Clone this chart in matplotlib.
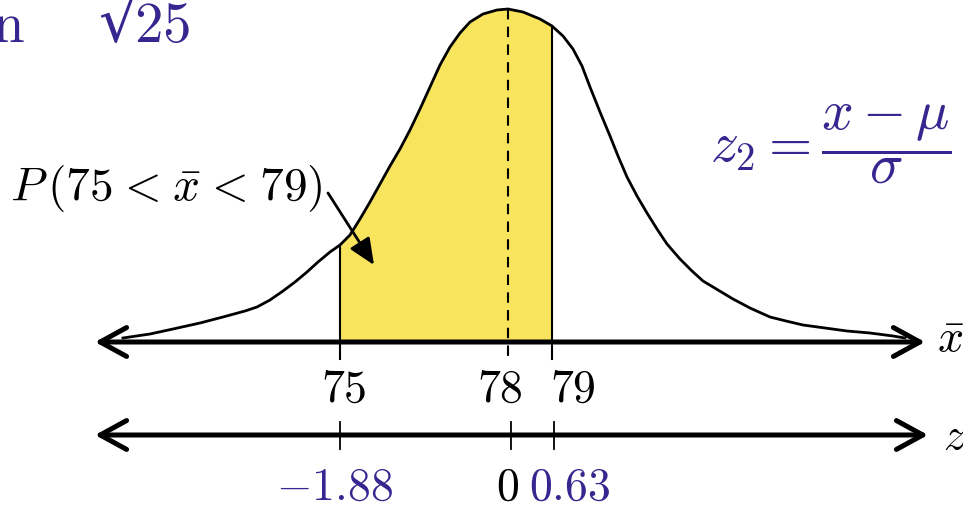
import numpy as np
import matplotlib
matplotlib.use("Agg")
import matplotlib.pyplot as plt
from matplotlib.patches import FancyArrowPatch

plt.rcParams['mathtext.fontset'] = 'cm'

# Couleurs
INDIGO = '#35278f'
JAUNE = '#f9e45e'

# Courbe en cloche (repère du canevas)
curve_x = [123, 150, 173, 200, 223, 245, 257, 270, 283, 295, 307, 318, 330, 340,
           350, 360, 370, 380, 390, 400, 410, 420, 430, 440, 450, 460, 470, 483,
           497, 508, 523, 540, 552, 563, 573, 582, 590, 600, 610, 618, 627, 637,
           647, 657, 667, 680, 692, 703, 718, 733, 750, 770, 786, 803, 825, 847,
           870, 893, 905]
curve_y = [339, 335, 330, 324, 318, 312, 308, 301, 292, 283, 273, 263, 253, 246,
           236, 220, 203, 185, 167, 150, 131, 110, 88, 66, 48, 34, 23, 15,
           11, 10, 13, 20, 27, 37, 50, 67, 88, 113, 137, 157, 178, 197,
           214, 230, 245, 260, 272, 282, 291, 300, 309, 318, 322, 326, 329, 332,
           334, 337, 339]

# Valeurs affichées
xbar_labels = ['75', '78', '79']
z_labels = ['-1.88', '0', '0.63']
z_colors = [INDIGO, 'black', INDIGO]

# Mise en page (positions sur le canevas)
xbar_ticks = [340, 508, 552]
z_ticks = [340, 511, 554]
xbar_lab_pos = [344, 500, 573]
z_lab_pos = [335, 508, 570]
y_xbar = 343
y_z = 436

fig = plt.figure(figsize=(9.63, 5.06), dpi=100)
ax = fig.add_axes([0, 0, 1, 1])
ax.set_xlim(0, 963)
ax.set_ylim(506, 0)
ax.axis('off')

cx = np.array(curve_x)
cy = np.array(curve_y)

# zone ombrée entre 75 et 79
m = (cx >= xbar_ticks[0]) & (cx <= xbar_ticks[2])
ax.fill_between(cx[m], cy[m], y_xbar, color=JAUNE, lw=0, zorder=1)

ax.plot(cx, cy, color='black', lw=2, solid_joinstyle='round', zorder=3)

# bords de la zone et moyenne
ax.plot([xbar_ticks[0]] * 2, [cy[cx == xbar_ticks[0]][0], 360], color='black', lw=1.5, zorder=2)
ax.plot([xbar_ticks[2]] * 2, [cy[cx == xbar_ticks[2]][0], 360], color='black', lw=1.5, zorder=2)
ax.plot([xbar_ticks[1]] * 2, [cy.min(), 360], color='black', lw=1.5,
        linestyle=(0, (5, 3.5)), zorder=2)

# axes à double flèche
for yy, x0, x1 in [(y_xbar, 95, 925), (y_z, 95, 928)]:
    arr = FancyArrowPatch((x0, yy), (x1, yy),
                          arrowstyle='<->,head_length=0.95,head_width=0.52',
                          mutation_scale=20, lw=3.6, color='black',
                          shrinkA=0, shrinkB=0, zorder=4,
                          joinstyle='round', capstyle='round')
    ax.add_patch(arr)

for t in z_ticks:
    ax.plot([t, t], [423, 450], color='black', lw=1.3, zorder=4)

for lab, px in zip(xbar_labels, xbar_lab_pos):
    ax.text(px, 402, '$' + lab + '$', fontsize=33, ha='center', va='baseline')

for lab, px, c in zip(z_labels, z_lab_pos, z_colors):
    ax.text(px, 500, '$' + lab + '$', fontsize=33, ha='center', va='baseline', color=c)

ax.text(937, 352, r'$\bar{x}$', fontsize=33, ha='left', va='baseline')
ax.text(943, 449, r'$z$', fontsize=33, ha='left', va='baseline')

# textes
ax.text(-8, 42, r'$\mathrm{n}$', fontsize=41, ha='left', va='baseline', color=INDIGO)
ax.text(98, 42, '\u221a', fontsize=44, ha='left', va='baseline', color=INDIGO,
        family='DejaVu Serif')
ax.text(134, 42, r'$25$', fontsize=41, ha='left', va='baseline', color=INDIGO)
ax.text(710, 162, r'$z_2 = \dfrac{x - \mu}{\sigma}$', fontsize=40,
        ha='left', va='baseline', color=INDIGO)

ax.text(10, 200, r'$P\,(75\hspace{0.08}<\hspace{0.08}\bar{x}\hspace{0.08}<\hspace{0.08}79)$',
        fontsize=34, ha='left', va='baseline')
ax.annotate('', xy=(374, 266), xytext=(328, 194),
            arrowprops=dict(arrowstyle='-|>,head_length=0.8,head_width=0.35',
                            mutation_scale=20, lw=2, color='black',
                            shrinkA=0, shrinkB=0), zorder=5)

fig.savefig('out.png', dpi=100)
